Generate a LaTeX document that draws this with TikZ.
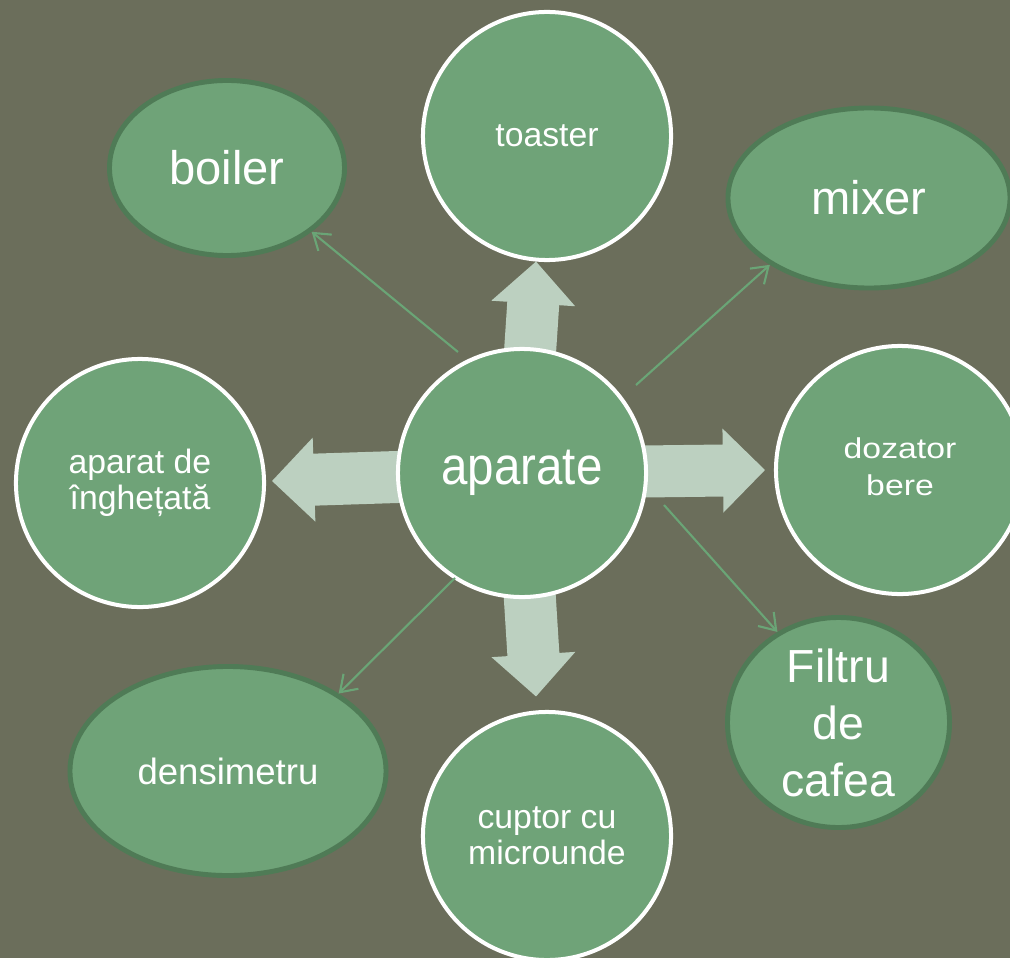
\documentclass[tikz,border=0pt]{standalone}
\usepackage{fontspec}
\setmainfont{Liberation Sans}
\usepackage{graphicx}
\usetikzlibrary{shapes.geometric,arrows.meta,calc,backgrounds}
\definecolor{bgcol}{HTML}{6B6E5B}
\definecolor{nodefill}{HTML}{6FA378}
\definecolor{edgegreen}{HTML}{4F7B56}
\definecolor{blockcol}{HTML}{BCD0C0}
\definecolor{linecol}{HTML}{6AA576}
\newcommand{\fsS}{\fontsize{24}{25.6}\selectfont}
\newcommand{\fsL}{\fontsize{33.5}{40}\selectfont}
\newcommand{\blockarrow}[3]{%
  \coordinate (#3) at ($(#2)!1.05cm!(#1)$);
  \fill[blk] ($(#1)!0.65cm!90:(#2)$) -- ($(#3)!0.65cm!90:(#2)$) -- ($(#3)!1.05cm!90:(#2)$) -- (#2)
    -- ($(#3)!1.05cm!-90:(#2)$) -- ($(#3)!0.65cm!-90:(#2)$) -- ($(#1)!0.65cm!-90:(#2)$) -- cycle;
}
\tikzset{
  wcirc/.style={circle, draw=white, line width=2.85pt, fill=nodefill, minimum size=6.2cm,
    inner sep=0pt, text=white, align=center},
  gell/.style={ellipse, draw=edgegreen, line width=3.5pt, fill=nodefill, inner sep=0pt,
    text=white, align=center},
  thinarr/.style={draw=linecol, line width=1.5pt, -{Straight Barb[length=11pt,width=15pt,line width=1.5pt]}},
  blk/.style={fill=blockcol}
}
\begin{document}
\begin{tikzpicture}[x=0.025cm,y=-0.025cm]
\useasboundingbox (0,0) rectangle (1010,958);
% nodes
\node[wcirc, font=\fontsize{33.8}{40}\selectfont] (aparate) at (522,473) {\scalebox{1}[1.12]{aparate}};
\node[wcirc, font=\fsS] (toaster) at (547,136) {toaster};
\node[wcirc, font=\fontsize{24}{31}\selectfont] (dozator) at (900,470)
  {\scalebox{1}[0.85]{\begin{tabular}{@{}c@{}}dozator\\bere\end{tabular}}};
\node[wcirc, font=\fsS] (cuptor) at (547,836) {cuptor cu\\microunde};
\node[wcirc, font=\fsS] (ice) at (140,483) {aparat de\\înghețată};
\node[gell, minimum width=5.875cm, minimum height=4.375cm, font=\fsL] (boiler) at (227,168) {boiler};
\node[gell, minimum width=7.05cm, minimum height=4.5cm, font=\fsL] (mixer) at (869,198) {mixer};
\node[gell, minimum width=7.9cm, minimum height=5.225cm, font=\fontsize{26}{30}\selectfont] (dens) at (228,771) {densimetru};
\node[gell, minimum width=5.55cm, minimum height=5.25cm, font=\fontsize{33}{40.5}\selectfont] (filtru) at (838.5,722.5) {Filtru\\de\\cafea};
% block arrows (behind nodes)
\begin{scope}[on background layer]
  \fill[bgcol] (0,0) rectangle (1010,958);
  \coordinate (tUp) at (toaster.265);
  \coordinate (tRight) at ($(dozator.west)+(-9,0)$);
  \coordinate (tLeft) at ($(ice.east)+(6,-2)$);
  \coordinate (tDown) at ($(cuptor.95)+(0,-14)$);
  \blockarrow{aparate.center}{tUp}{hUp}
  \blockarrow{aparate.center}{tRight}{hRight}
  \blockarrow{aparate.center}{tLeft}{hLeft}
  \blockarrow{aparate.center}{tDown}{hDown}
\end{scope}
% thin arrows
\coordinate (s1) at (458,352);
\coordinate (s2) at (636,385);
\coordinate (s3) at (664,505);
\coordinate (s4) at (455,578);
\draw[thinarr] (s1) -- (boiler.323);
\draw[thinarr] (s2) -- (mixer.214);
\draw[thinarr] (s3) -- (filtru.124);
\draw[thinarr] (s4) -- (dens.35);
\end{tikzpicture}
\end{document}
